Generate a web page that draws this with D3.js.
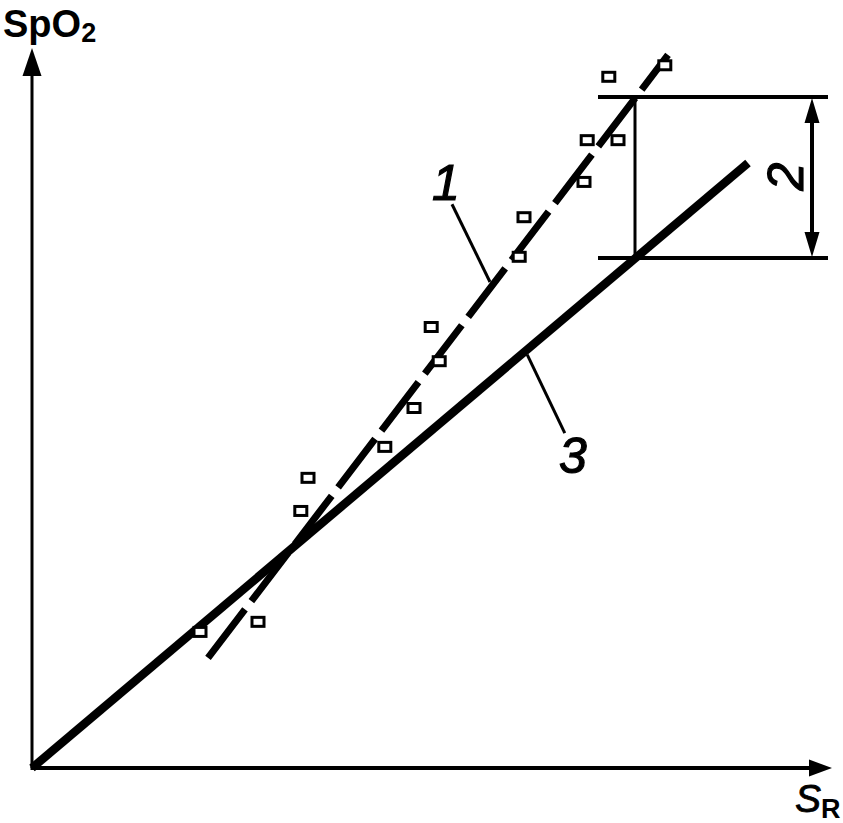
<!DOCTYPE html>
<html>
<head>
<meta charset="utf-8">
<script src="https://cdn.jsdelivr.net/npm/d3@7/dist/d3.min.js"></script>
<style>
  body { margin: 0; background: #fff; }
  svg { display: block; }
  text { font-family: "Liberation Sans", Arial, sans-serif; fill: #000; }
</style>
</head>
<body>
<div class="chart"></div>
<script>
// values in arbitrary chart units (0..100 on both axes)
var points = [
  [21.0, 18.9], [28.25, 20.3], [33.6, 35.7], [34.5, 40.3], [44.1, 44.6],
  [47.75, 50.0], [50.9, 56.5], [49.9, 61.25], [60.9, 71.0], [61.5, 76.5],
  [69.0, 81.4], [69.4, 87.2], [73.25, 87.2], [72.1, 96.0], [79.1, 97.6]
];
var line1 = [[22.0, 15.28], [79.5, 99.03]];   // dashed fit
var line3 = [[0, 0], [89.5, 84.03]];           // solid
var bracketX = 75.375, bracketTop = 93.19, bracketBottom = 70.83;
var bracketFrom = 70.75, bracketTo = 99.5, bracketArrowX = 97.5;
var leader1 = [[52.5, 78.3], [57.25, 67.5]];
var leader3 = [[61.9, 57.4], [66.6, 46.5]];
var labels = [
  {text: "1", x: 51.75, y: 78.9},
  {text: "3", x: 67.6, y: 41.0}
];
var label2 = {text: "2", x: 96.4, y: 82.15};

var width = 843, height = 823;

var x = d3.scaleLinear().domain([0, 100]).range([32, 832]),
    y = d3.scaleLinear().domain([0, 100]).range([768, 48]);

var svg = d3.select(".chart")
  .append("svg")
  .attr("width", width)
  .attr("height", height);

var line = d3.line()
  .x(function(d) { return x(d[0]); })
  .y(function(d) { return y(d[1]); });

// axes
svg.append("line")
  .attr("x1", x(0)).attr("y1", y(0))
  .attr("x2", x(0)).attr("y2", y(100) + 20)
  .attr("stroke", "#000").attr("stroke-width", 3);
svg.append("path")
  .attr("d", "M" + x(0) + "," + y(100) + "L" + (x(0) - 9.5) + "," + (y(100) + 28) + "L" + (x(0) + 9.5) + "," + (y(100) + 28) + "Z")
  .attr("fill", "#000");

svg.append("line")
  .attr("x1", x(0) - 1.5).attr("y1", y(0))
  .attr("x2", x(100) - 20).attr("y2", y(0))
  .attr("stroke", "#000").attr("stroke-width", 4);
svg.append("path")
  .attr("d", "M" + x(100) + "," + y(0) + "L" + (x(100) - 23) + "," + (y(0) - 8.5) + "L" + (x(100) - 23) + "," + (y(0) + 8.5) + "Z")
  .attr("fill", "#000");

// bracket "2"
[bracketTop, bracketBottom].forEach(function(v) {
  svg.append("line")
    .attr("x1", x(bracketFrom)).attr("y1", y(v))
    .attr("x2", x(bracketTo)).attr("y2", y(v))
    .attr("stroke", "#000").attr("stroke-width", 4);
});
svg.append("line")
  .attr("x1", x(bracketX)).attr("y1", y(bracketTop))
  .attr("x2", x(bracketX)).attr("y2", y(bracketBottom))
  .attr("stroke", "#000").attr("stroke-width", 3);
svg.append("line")
  .attr("x1", x(bracketArrowX)).attr("y1", y(bracketTop) + 15)
  .attr("x2", x(bracketArrowX)).attr("y2", y(bracketBottom) - 15)
  .attr("stroke", "#000").attr("stroke-width", 4);
var ax = x(bracketArrowX), at = y(bracketTop) + 1, ab = y(bracketBottom) - 1;
svg.append("path")
  .attr("d", "M" + ax + "," + at + "L" + (ax - 7.5) + "," + (at + 25) + "L" + (ax + 7.5) + "," + (at + 25) + "Z" +
             "M" + ax + "," + ab + "L" + (ax - 7.5) + "," + (ab - 25) + "L" + (ax + 7.5) + "," + (ab - 25) + "Z")
  .attr("fill", "#000");

// lines
svg.append("path")
  .attr("d", line(line3))
  .attr("fill", "none").attr("stroke", "#000").attr("stroke-width", 8.5);
svg.append("path")
  .attr("d", line(line1))
  .attr("fill", "none").attr("stroke", "#000").attr("stroke-width", 7)
  .attr("stroke-dasharray", "61,10.5");

// leaders
[leader1, leader3].forEach(function(l) {
  svg.append("path")
    .attr("d", line(l))
    .attr("fill", "none").attr("stroke", "#000").attr("stroke-width", 3);
});

// data squares
svg.selectAll(".pt")
  .data(points)
  .enter().append("rect")
    .attr("class", "pt")
    .attr("x", function(d) { return x(d[0]) - 6; })
    .attr("y", function(d) { return y(d[1]) - 4.5; })
    .attr("width", 12)
    .attr("height", 9)
    .attr("fill", "#fff")
    .attr("stroke", "#000")
    .attr("stroke-width", 3);

// labels
svg.selectAll(".lbl")
  .data(labels)
  .enter().append("text")
    .attr("class", "lbl")
    .attr("x", function(d) { return x(d.x); })
    .attr("y", function(d) { return y(d.y); })
    .attr("text-anchor", "middle")
    .attr("stroke", "#000").attr("stroke-width", 1.2)
    .style("font-size", "50px")
    .style("font-style", "italic")
    .text(function(d) { return d.text; });

svg.append("text")
  .attr("transform", "translate(" + x(label2.x) + "," + y(label2.y) + ") rotate(-90)")
  .attr("text-anchor", "middle")
  .attr("stroke", "#000").attr("stroke-width", 1.2)
  .style("font-size", "50px")
  .style("font-style", "italic")
  .text(label2.text);

// axis titles
var yt = svg.append("text")
  .attr("x", 3).attr("y", 37)
  .style("font-size", "38px").style("font-weight", "bold");
yt.append("tspan").text("SpO");
yt.append("tspan").attr("dy", 5).style("font-size", "27px").text("2");

var xt = svg.append("text")
  .attr("x", 795).attr("y", 812);
xt.append("tspan").attr("stroke", "#000").attr("stroke-width", 0.8)
  .style("font-size", "39px").style("font-style", "italic").text("S");
xt.append("tspan").attr("dy", 6).style("font-size", "27px").style("font-weight", "bold").text("R");
</script>
</body>
</html>
